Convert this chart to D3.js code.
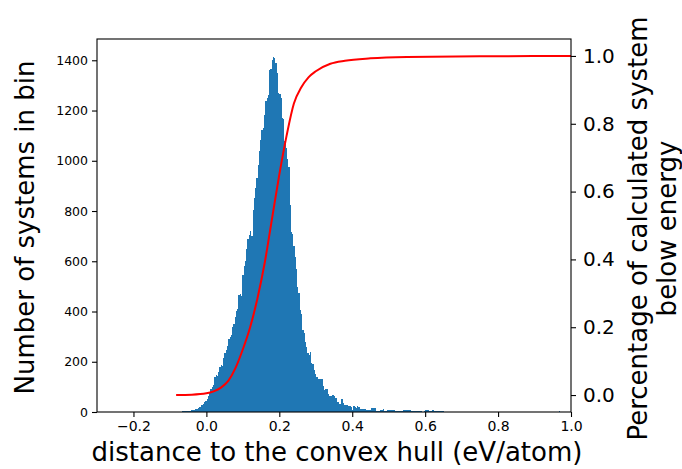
<!DOCTYPE html>
<html>
<head>
<meta charset="utf-8">
<script src="https://cdn.jsdelivr.net/npm/d3@7"></script>
<style>
	body { margin: 0; background: #fff; }
	text { font-family: 'DejaVu Sans', sans-serif; fill: #000; }
</style>
</head>
<body>
<svg id="chart"></svg>
<script>
const WIDTH = 682;
const HEIGHT = 469;
const margin = {top: 39, right: 111, bottom: 57, left: 97};

// histogram: 300 equal bins between the first and last edge
const binRange = [-0.08, 0.97];
const binCounts = [
	0, 0, 0, 1, 2, 5, 2, 3, 4, 3,
	5, 6, 7, 8, 10, 12, 15, 20, 18, 26,
	30, 38, 45, 50, 65, 78, 90, 100, 108, 140,
	148, 145, 160, 180, 187, 184, 215, 236, 245, 262,
	290, 300, 305, 340, 352, 380, 403, 410, 465, 469,
	462, 546, 581, 600, 647, 690, 705, 720, 700, 806,
	850, 892, 932, 984, 1037, 1084, 1123, 1130, 1183, 1236,
	1250, 1262, 1361, 1365, 1401, 1414, 1410, 1388, 1348, 1269,
	1265, 1249, 1170, 1165, 1080, 1050, 1007, 974, 822, 716,
	710, 660, 617, 571, 498, 472, 406, 392, 326, 313,
	280, 260, 234, 227, 240, 194, 190, 167, 152, 141,
	132, 132, 132, 130, 104, 88, 92, 90, 72, 62,
	62, 68, 68, 65, 56, 38, 38, 33, 53, 53,
	35, 29, 29, 28, 24, 24, 20, 9, 22, 20,
	16, 24, 18, 12, 12, 12, 10, 12, 9, 9,
	8, 9, 16, 16, 14, 15, 5, 5, 4, 6,
	8, 12, 5, 4, 9, 8, 9, 9, 8, 9,
	9, 4, 3, 4, 4, 3, 4, 7, 7, 6,
	7, 7, 6, 4, 3, 4, 4, 3, 4, 4,
	2, 2, 1, 2, 7, 7, 6, 3, 3, 2,
	6, 5, 3, 3, 2, 3, 3, 2, 3, 1,
	1, 0, 1, 0, 0, 1, 0, 0, 1, 0,
	0, 0, 1, 0, 0, 0, 0, 1, 0, 0,
	0, 0, 0, 0, 1, 0, 0, 0, 0, 0,
	0, 0, 0, 0, 0, 0, 0, 0, 0, 0,
	0, 0, 0, 0, 0, 0, 0, 0, 0, 0,
	0, 0, 0, 0, 0, 0, 0, 0, 0, 0,
	0, 0, 0, 0, 0, 0, 0, 0, 0, 0,
	0, 0, 0, 0, 0, 0, 0, 0, 0, 0,
	0, 0, 0, 0, 0, 0, 0, 0, 0, 4
];

// cumulative fraction (red line, right axis)
const cdfX = [-0.083, -0.04, 0.0, 0.02, 0.04, 0.06, 0.08, 0.10, 0.12, 0.14, 0.16, 0.18,
	0.20, 0.22, 0.24, 0.26, 0.28, 0.30, 0.34, 0.38, 0.45, 0.55, 0.75, 1.0];
const cdfY = [0.0, 0.001, 0.005, 0.011, 0.022, 0.042, 0.08, 0.135, 0.2, 0.285, 0.39, 0.52,
	0.65, 0.765, 0.86, 0.907, 0.937, 0.955, 0.977, 0.986, 0.993, 0.997, 0.999, 1.0];

const xTicks = [-0.2, 0.0, 0.2, 0.4, 0.6, 0.8, 1.0];
const leftTicks = [0, 200, 400, 600, 800, 1000, 1200, 1400];
const rightTicks = [0.0, 0.2, 0.4, 0.6, 0.8, 1.0];

const svg = d3.select('#chart')
	.attr('width', WIDTH)
	.attr('height', HEIGHT);

const x = d3.scaleLinear()
	.domain([-0.3, 1.0])
	.range([margin.left, WIDTH - margin.right]);

const yLeft = d3.scaleLinear()
	.domain([0, d3.max(binCounts) * 1.05])
	.range([HEIGHT - margin.bottom, margin.top]);

const yRight = d3.scaleLinear()
	.domain([-0.05, 1.05])
	.range([HEIGHT - margin.bottom, margin.top]);

const binWidth = (binRange[1] - binRange[0]) / binCounts.length;
const bins = binCounts.map((c, i) => ({
	x0: binRange[0] + i * binWidth,
	x1: binRange[0] + (i + 1) * binWidth,
	count: c
}));

svg.append('g')
	.attr('shape-rendering', 'crispEdges')
	.selectAll('rect')
	.data(bins.filter(d => d.count > 0))
	.enter()
	.append('rect')
	.attr('x', d => x(d.x0))
	.attr('width', d => x(d.x1) - x(d.x0))
	.attr('y', d => yLeft(d.count))
	.attr('height', d => yLeft(0) - yLeft(d.count))
	.attr('fill', '#1f77b4');

const line = d3.line()
	.x(d => x(d[0]))
	.y(d => yRight(d[1]))
	.curve(d3.curveMonotoneX);

svg.append('path')
	.datum(d3.zip(cdfX, cdfY))
	.attr('d', line)
	.attr('fill', 'none')
	.attr('stroke', '#ff0000')
	.attr('stroke-width', 2);

// axes
const styleAxis = (g, size) => {
	g.select('.domain').remove();
	g.selectAll('line').attr('stroke', '#000').attr('stroke-width', 1.1);
	g.selectAll('text').attr('font-size', size).attr('font-family', 'DejaVu Sans');
};

svg.append('g')
	.attr('transform', `translate(0,${HEIGHT - margin.bottom})`)
	.call(d3.axisBottom(x).tickValues(xTicks).tickFormat(d3.format('.1f')).tickSize(5).tickPadding(4))
	.call(g => styleAxis(g, 14));

svg.append('g')
	.attr('transform', `translate(${margin.left},0)`)
	.call(d3.axisLeft(yLeft).tickValues(leftTicks).tickFormat(d3.format('d')).tickSize(5).tickPadding(4))
	.call(g => styleAxis(g, 12.5));

svg.append('g')
	.attr('transform', `translate(${WIDTH - margin.right},0)`)
	.call(d3.axisRight(yRight).tickValues(rightTicks).tickFormat(d3.format('.1f')).tickSize(5).tickPadding(7))
	.call(g => styleAxis(g, 20));

svg.append('rect')
	.attr('x', margin.left)
	.attr('y', margin.top)
	.attr('width', WIDTH - margin.left - margin.right)
	.attr('height', HEIGHT - margin.top - margin.bottom)
	.attr('fill', 'none')
	.attr('stroke', '#000')
	.attr('stroke-width', 1.1);

// labels
const midX = (margin.left + WIDTH - margin.right) / 2;
const midY = (margin.top + HEIGHT - margin.bottom) / 2;

svg.append('text')
	.attr('x', midX + 3)
	.attr('y', 461)
	.attr('text-anchor', 'middle')
	.attr('font-size', 26)
	.text('distance to the convex hull (eV/atom)');

svg.append('text')
	.attr('transform', `translate(34,${midY + 2}) rotate(-90)`)
	.attr('text-anchor', 'middle')
	.attr('font-size', 26)
	.text('Number of systems in bin');

const rightLabel = svg.append('text')
	.attr('transform', `translate(647,${midY + 3}) rotate(-90)`)
	.attr('text-anchor', 'middle')
	.attr('font-size', 26);

rightLabel.append('tspan')
	.attr('x', 0)
	.attr('y', 0)
	.text('Percentage of calculated system');

rightLabel.append('tspan')
	.attr('x', 0)
	.attr('y', 0)
	.attr('dy', 29)
	.text('below energy');
</script>
</body>
</html>
